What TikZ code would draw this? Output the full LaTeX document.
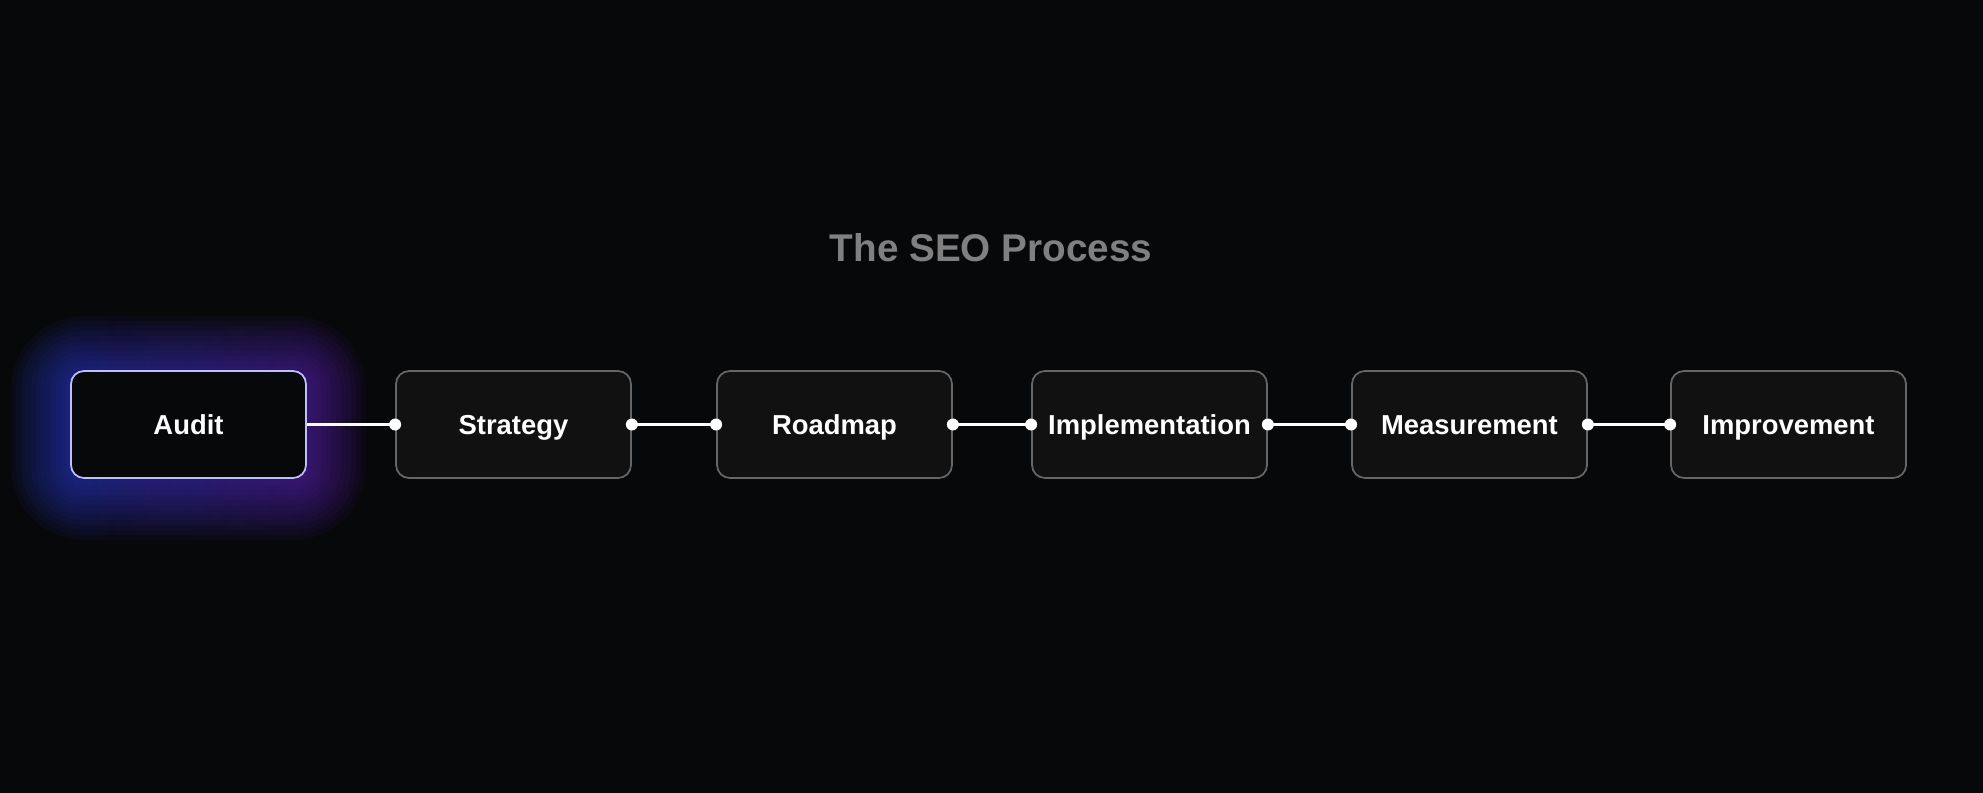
\documentclass[tikz,border=0pt]{standalone}
\usepackage{fontspec}
\setmainfont{Liberation Sans}
\begin{document}
\begin{tikzpicture}[x=0.1mm,y=-0.1mm,
  box/.style={draw=white!40!black, line width=0.5pt, fill=boxfill, rounded corners=1.3mm,
    minimum width=23.5mm, minimum height=10.7mm, inner sep=0pt, text=white,
    text height=2.0mm, text depth=0mm,
    font=\fontsize{7.8pt}{9pt}\selectfont\bfseries},
  conn/.style={draw=white, line width=0.8pt},
  dot/.style={circle, fill=white, inner sep=0pt, minimum size=1.2mm}]
\definecolor{bg}{HTML}{07080A}
\definecolor{boxfill}{HTML}{111112}
\definecolor{glowb}{HTML}{2F4BFF}
\definecolor{glowp}{HTML}{7A2BE0}
\fill[bg] (0,0) rectangle (1983,793);
\useasboundingbox (0,0) rectangle (1983,793);
\node[text=white!50!black, font=\fontsize{11pt}{13pt}\selectfont\bfseries] (title) at (991,248) {The SEO Process};
% glow
\foreach \r in {60,55,...,5}{
  \shade[left color=glowb, right color=glowp, opacity=0.05, rounded corners=\r*0.1mm+1.3mm]
    (71-\r,376-\r) rectangle (306+\r,480+\r);
}
\node[box, draw=white!75!blue, fill=bg] (a) at (188.5,424.5) {Audit};
\node[box] (b) at (513.5,424.5) {Strategy};
\node[box] (c) at (834.5,424.5) {Roadmap};
\node[box] (d) at (1149.5,424.5) {Implementation};
\node[box] (e) at (1469.5,424.5) {Measurement};
\node[box] (f) at (1788.5,424.5) {Improvement};
\draw[conn] (a.east) -- (b.west);
\node[dot] at (b.west) {};
\foreach \p/\q in {b/c,c/d,d/e,e/f}{
  \draw[conn] (\p.east) -- (\q.west);
  \node[dot] at (\p.east) {};
  \node[dot] at (\q.west) {};
}
\end{tikzpicture}
\end{document}
